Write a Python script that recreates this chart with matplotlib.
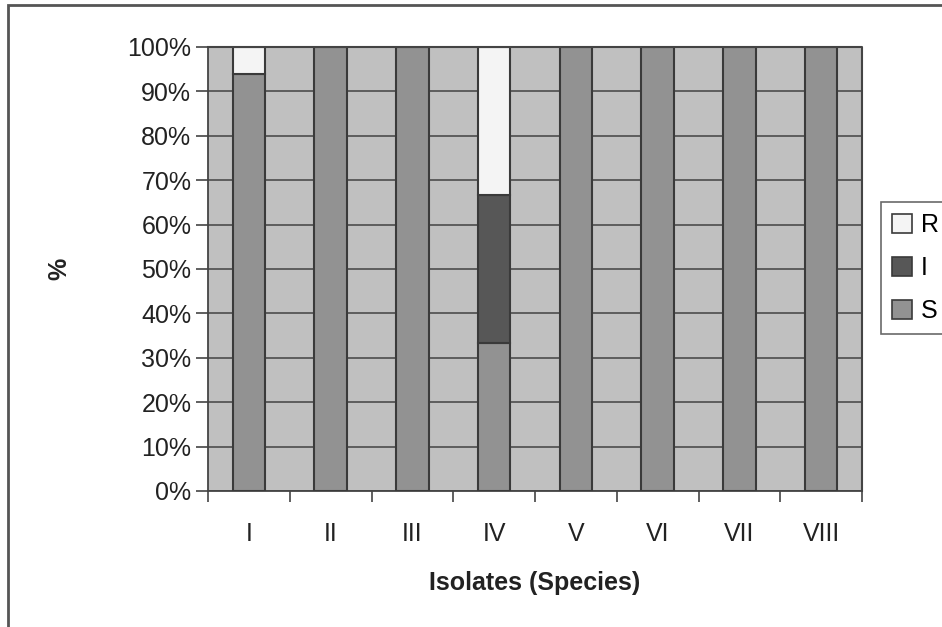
import numpy as np
import matplotlib.pyplot as plt
from matplotlib.patches import Rectangle, Patch

plt.rcParams['font.family'] = ['Liberation Sans', 'DejaVu Sans']

isolates = ['I', 'II', 'III', 'IV', 'V', 'VI', 'VII', 'VIII']
S = [94, 100, 100, 33.3, 100, 100, 100, 100]
I = [0, 0, 0, 33.3, 0, 0, 0, 0]
R = [6, 0, 0, 33.4, 0, 0, 0, 0]

S = np.array(S)
I = np.array(I)
R = np.array(R)

col_S, col_I, col_R = '#929292', '#575757', '#f4f4f4'
ec = '#3a3a3a'

fig = plt.figure(figsize=(9.42, 6.27), dpi=100)
ax = fig.add_axes([208/942, 1 - 491/627, (862 - 208)/942, (491 - 47)/627])
ax.set_facecolor('#c0c0c0')

x = np.arange(len(isolates))
w = 0.4
bS = ax.bar(x, S, w, color=col_S, edgecolor=ec, linewidth=1.5, zorder=3)
bI = ax.bar(x, I, w, bottom=S, color=col_I, edgecolor=ec, linewidth=1.5, zorder=3)
bR = ax.bar(x, R, w, bottom=S + I, color=col_R, edgecolor=ec, linewidth=1.5, zorder=3)
# hide zero-height segments
for bars, vals in ((bI, I), (bR, R)):
    for b, v in zip(bars, vals):
        if v == 0:
            b.set_visible(False)

ax.set_xlim(-0.5, len(isolates) - 0.5)
ax.set_ylim(0, 100)
ax.set_yticks(np.arange(0, 101, 10))
ax.set_yticklabels([f'{v}%' for v in range(0, 101, 10)], fontsize=18, color='#222222')
ax.set_xticks(np.arange(-0.5, len(isolates), 1))
ax.set_xticklabels([])
ax.set_xticks(x, minor=True)
ax.set_xticklabels(isolates, minor=True, fontsize=18, color='#222222')
ax.tick_params(axis='x', which='minor', length=0, pad=22)
ax.tick_params(axis='x', which='major', length=8, width=1.2, color='#444444', direction='out')
ax.tick_params(axis='y', length=9, width=1.2, color='#444444', direction='out', pad=3)
ax.grid(axis='y', color='#555555', linewidth=1.3, zorder=1)

for s in ['top', 'right']:
    ax.spines[s].set_visible(False)
ax.spines['left'].set_color('#444444')
ax.spines['bottom'].set_color('#444444')
ax.spines['left'].set_linewidth(1.3)
ax.spines['bottom'].set_linewidth(1.3)
# top/right border of plot area
ax.plot([-0.5, 7.5, 7.5], [100, 100, 0], color='#444444', linewidth=1.5, zorder=4, clip_on=False)

ax.set_xlabel('Isolates (Species)', fontsize=18, fontweight='bold', labelpad=18, color='#222222')
ax.set_ylabel('%', fontsize=18, fontweight='bold', labelpad=40, color='#222222')

handles = [Patch(facecolor=col_R, edgecolor=ec, linewidth=1.2),
           Patch(facecolor=col_I, edgecolor=ec, linewidth=1.2),
           Patch(facecolor=col_S, edgecolor=ec, linewidth=1.2)]
leg = fig.legend(handles=handles, labels=['R', 'I', 'S'], loc='upper left',
                 bbox_to_anchor=(881/942, 1 - 202/627), borderaxespad=0, fontsize=18,
                 frameon=True, fancybox=False, edgecolor='#444444', handlelength=0.8,
                 handleheight=0.8, handletextpad=0.35, labelspacing=0.75, borderpad=0.45)
leg.get_frame().set_linewidth(1.2)

fig.patches.append(Rectangle((8/942, -0.1), 1.2, 1 - 5/627 + 0.1, transform=fig.transFigure,
                             fill=False, edgecolor='#555555', linewidth=2))

fig.savefig('out.png', dpi=100)
